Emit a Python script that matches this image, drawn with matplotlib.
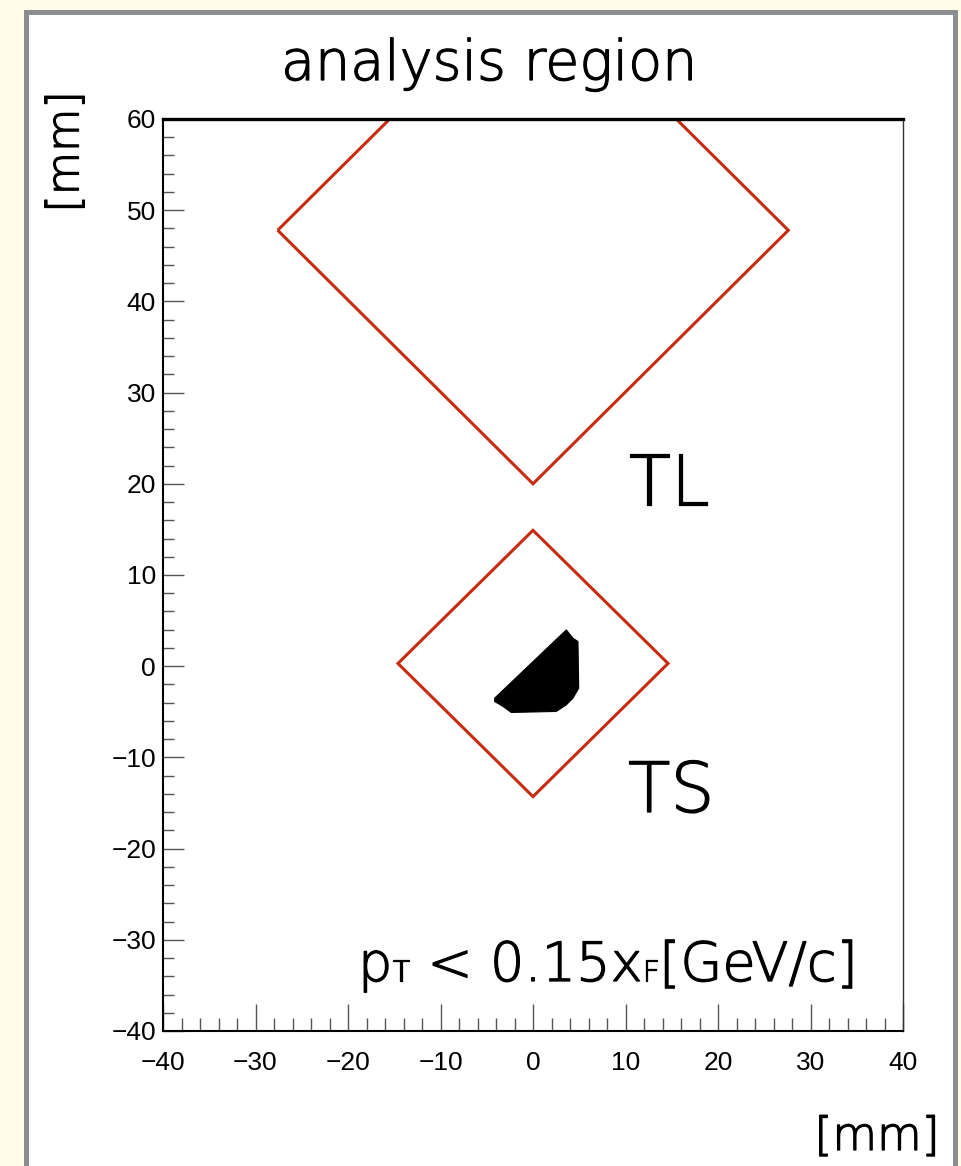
import matplotlib
matplotlib.use("Agg")
import matplotlib.pyplot as plt
import matplotlib.patheffects as pe
from matplotlib.patches import Polygon, Rectangle
from matplotlib.ticker import MultipleLocator

# ---- data (mm) ----
tl_x = [-27.6, 0.0, 27.6, 0.0]
tl_y = [47.8, 20.0, 47.8, 75.6]
ts_x = [-14.6, 0.0, 14.6, 0.0]
ts_y = [0.3, -14.3, 0.3, 14.9]
blob_x = [3.60, 4.32, 4.86, 4.94, 4.32, 3.60, 2.52, -2.35, -3.24, -4.14, -4.14]
blob_y = [3.98, 3.07, 2.71, -2.41, -3.50, -4.24, -4.96, -5.07, -4.41, -3.87, -3.50]
x_range = [-40, 40]
y_range = [-40, 60]
major_step = 10
minor_step = 2

TXT = ['DejaVu Sans']
TICKF = ['Liberation Sans', 'DejaVu Sans']
RED = '#c62c10'
TW = 'light'
THICK = [pe.withStroke(linewidth=0.9, foreground='black')]

fig = plt.figure(figsize=(9.62, 11.66), dpi=100)
fig.patch.set_facecolor('#fffde8')

W, H = 962.0, 1166.0
frame = Rectangle((25.5 / W, -0.05), (955.5 - 25.5) / W, 1.05 - 11.5 / H,
                  transform=fig.transFigure, facecolor='white',
                  edgecolor='#8b8d90', linewidth=3.6, zorder=-10)
fig.patches.append(frame)

ax = fig.add_axes([163 / W, 1 - 1031 / H, (903 - 163) / W, (1031 - 119) / H])
ax.set_zorder(5)
ax.set_facecolor('white')
ax.set_xlim(*x_range)
ax.set_ylim(*y_range)

ax.add_patch(Polygon(list(zip(tl_x, tl_y)), closed=True, fill=False,
                     edgecolor=RED, linewidth=2.2))
ax.add_patch(Polygon(list(zip(ts_x, ts_y)), closed=True, fill=False,
                     edgecolor=RED, linewidth=2.2))
ax.add_patch(Polygon(list(zip(blob_x, blob_y)), closed=True,
                     facecolor='black', edgecolor='black', linewidth=0.8))

ax.xaxis.set_major_locator(MultipleLocator(major_step))
ax.xaxis.set_minor_locator(MultipleLocator(minor_step))
ax.yaxis.set_major_locator(MultipleLocator(major_step))
ax.yaxis.set_minor_locator(MultipleLocator(minor_step))

ax.tick_params(axis='x', which='major', direction='in', length=19.5, width=1.0,
               color='#555555', pad=14.5, labelsize=19)
ax.tick_params(axis='x', which='minor', direction='in', length=9.5, width=1.0,
               color='#555555')
ax.tick_params(axis='y', which='major', direction='in', length=15, width=1.0,
               color='#555555', pad=5, labelsize=19)
ax.tick_params(axis='y', which='minor', direction='in', length=8, width=1.0,
               color='#555555')
for lab in ax.get_xticklabels() + ax.get_yticklabels():
    lab.set_family(TICKF)

ax.spines['top'].set_linewidth(2.4)
ax.spines['top'].set_color('black')
ax.spines['left'].set_linewidth(1.5)
ax.spines['bottom'].set_linewidth(1.5)
ax.spines['right'].set_linewidth(1.0)
ax.spines['right'].set_color('#333333')

# texts
common = dict(family=TXT, weight=TW, zorder=10, path_effects=THICK)
fig.text(489 / W, 1 - 80 / H, 'analysis region', fontsize=40,
         ha='center', va='baseline', **common)
fig.text(66 / W, 1 - 152 / H, '[mm]', fontsize=32, rotation=90,
         ha='center', va='center', **common)
fig.text(940 / W, 1 - 1150 / H, '[mm]', fontsize=33,
         ha='right', va='baseline', **common)
fig.text(628 / W, 1 - 505 / H, 'TL', fontsize=50,
         ha='left', va='baseline', **common)
fig.text(628 / W, 1 - 812 / H, 'TS', fontsize=50,
         ha='left', va='baseline', **common)

pieces = [('p', 39), ('T', 21), (' < 0.15x', 39), ('F', 21), ('[GeV/c]', 39)]
fig.canvas.draw()
renderer = fig.canvas.get_renderer()
xpos = 358 / W
ybase = 1 - 981 / H
for s, fs in pieces:
    t = fig.text(xpos, ybase, s, fontsize=fs, ha='left', va='baseline',
                 **common)
    bb = t.get_window_extent(renderer=renderer)
    xpos += bb.width / fig.bbox.width

fig.savefig('out.png', dpi=100, facecolor=fig.get_facecolor())
